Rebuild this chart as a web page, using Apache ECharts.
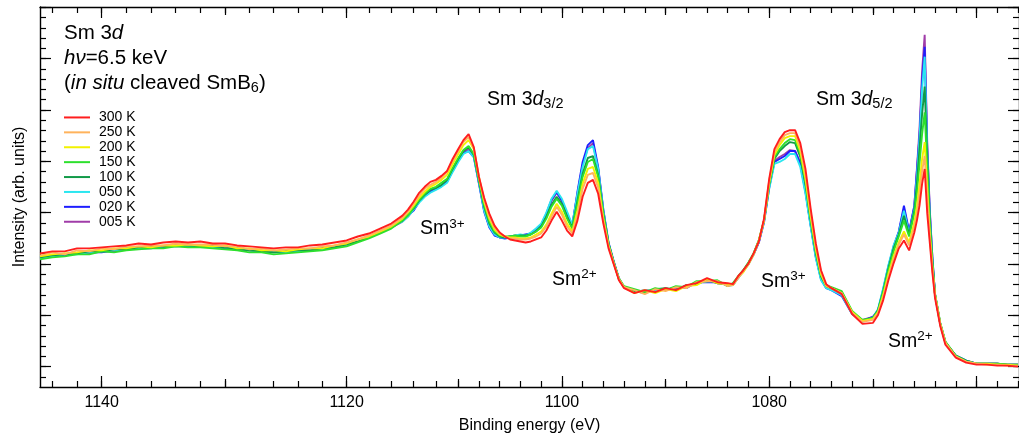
<!DOCTYPE html>
<html><head><meta charset="utf-8">
<script src="https://cdn.jsdelivr.net/npm/echarts@6/dist/echarts.min.js"></script>
<style>html,body{margin:0;padding:0;background:#fff}#c{width:1019px;height:439px}</style>
</head><body><div id="c"></div>
<script>
// Binding energy (eV)
const energy = [1145,1144,1143,1142,1141,1140,1139,1138,1137,1136,1135,1134,1133,1132,1131,1130,1129,1128,1127,1126,1125,1124,1123,1122,1121,1120,1119,1118,1117,1116,
1115,1114.5,1114,1113.5,1113,1112.5,1112,1111.5,1111,1110.5,1110,1109.5,1109,1108.5,1108,1107.5,1107,1106.5,1106,1105.5,1105,1104.5,1104,1103.5,1103,1102.5,1102,1101.5,1101,1100.5,1100,1099.5,1099,1098.5,1098,1097.5,1097,1096.5,1096,1095.5,1095,1094.5,1094,
1093,1092,1091,1090,1089,1088,1087,1086,1085,1084,
1083.5,1083,1082.5,1082,1081.5,1081,1080.5,1080,1079.5,1079,1078.5,1078,1077.5,1077,1076.5,1076,1075.5,1075,1074.5,1074,
1073,1072,1071,
1070,1069.5,1069,1068.5,1068,1067.5,1067,1066.5,1066,1065.75,1065.5,1065.25,1065,1064.75,1064.5,1064.25,1064,1063.5,1063,
1062,1061,1060,1059,1058,1057,1056];

// Intensity (arb. units)
const i300 = [114,116,116,119,119,120,121,122,124,123,125,126,125,126,124,124,122,121,120,119,120,120,122,123,125,127,131,134,139,144,
152,158,166,175,181,186,188,192,197,209,219,228,234,221,191,170,154,142,135,131,128,127,126,125,126,128,130,137,147,156,147,137,131,147,171,185,188,174,144,119,103,87,79,
74,77,75,79,77,82,84,89,85,84,
83,91,97,104,114,126,149,189,219,229,236,238,238,225,199,159,124,97,83,79,
73,53,43,
44,52,67,87,104,119,127,117,135,147,162,184,199,154,124,94,69,41,22,
9,4,2,2,1,1,0];
const i250 = [112,115,113,117,116,119,118,121,121,122,122,124,123,123,123,121,121,118,119,117,118,119,119,121,122,125,128,132,137,142,
150,156,164,172,179,183,186,190,196,207,217,226,231,220,191,168,151,140,134,131,129,129,128,128,129,131,134,141,151,161,153,141,134,153,179,193,195,180,147,121,104,88,80,
77,73,78,76,80,79,85,86,86,81,
82,89,96,103,113,126,147,187,216,226,233,235,235,221,194,155,121,95,82,79,
74,54,45,
47,54,70,90,108,123,133,122,141,154,174,197,212,169,129,97,72,43,24,
10,5,3,2,2,1,1];
const i200 = [111,113,114,115,117,117,119,119,121,120,122,122,123,122,121,122,119,119,117,117,116,118,119,119,122,124,128,131,136,141,
149,155,162,170,176,181,184,188,193,204,214,223,228,219,190,166,149,138,133,131,130,130,129,129,130,133,136,143,154,164,156,144,136,157,184,199,201,185,149,122,104,88,80,
74,77,74,78,76,81,82,88,84,83,
82,90,95,103,113,127,147,185,213,223,230,232,232,217,189,151,118,93,81,79,
74,55,46,
48,55,72,93,111,125,136,125,145,161,184,209,226,179,134,99,72,43,24,
10,5,3,3,2,2,1];
const i150 = [108,110,111,113,113,116,115,117,118,119,119,121,120,120,119,118,117,115,115,113,114,115,116,117,119,121,125,129,134,139,
147,152,160,168,174,179,181,185,189,200,210,218,222,214,188,163,146,136,132,131,131,132,131,131,133,136,140,149,161,169,162,149,139,164,191,206,209,191,153,123,105,89,81,
78,75,79,77,81,80,86,86,87,81,
84,91,97,105,114,127,147,184,211,219,225,229,228,214,186,149,116,92,82,80,
76,56,47,
49,56,75,97,116,131,147,131,154,174,204,234,256,199,141,103,73,44,25,
11,5,3,3,3,2,2];
const i100 = [110,112,113,114,116,116,118,118,120,120,121,122,122,121,121,120,118,117,116,115,116,117,117,119,120,123,126,130,135,140,
147,153,159,167,173,178,180,183,188,199,209,217,221,213,187,161,144,135,131,130,131,131,132,132,133,136,141,151,163,171,164,151,140,167,194,210,212,193,154,124,105,88,80,
76,74,78,79,77,82,83,87,84,83,
83,90,97,104,114,127,147,183,209,217,222,226,225,211,184,147,114,91,81,79,
75,55,46,
49,57,76,99,119,133,152,133,157,184,219,254,282,209,147,105,73,44,25,
11,6,3,3,3,2,2];
const i050 = [109,111,113,113,115,116,117,118,119,119,121,121,122,121,120,120,119,117,116,115,115,116,117,118,120,123,127,131,136,141,
146,151,158,165,171,175,178,181,185,196,206,214,217,211,185,157,141,133,130,130,131,132,133,132,135,139,144,155,169,177,169,156,143,174,201,219,222,199,157,124,105,88,80,
75,77,76,79,77,81,84,86,86,81,
82,89,96,103,113,126,146,179,204,206,209,214,214,201,174,141,109,87,79,77,
72,53,45,
49,58,79,102,122,135,157,134,159,191,229,279,312,214,151,107,73,43,24,
11,6,3,3,2,2,1];
const i020 = [110,111,112,114,115,115,117,119,119,120,120,122,121,122,121,119,119,117,116,116,115,117,118,119,121,123,126,131,136,141,
147,152,157,166,172,176,179,182,186,197,207,215,217,211,184,156,140,132,130,129,130,131,132,133,134,138,143,154,168,176,167,154,142,176,206,223,228,201,158,125,106,89,80,
77,75,77,77,80,79,85,85,85,82,
82,90,96,104,113,125,145,180,206,209,212,217,217,204,176,142,110,88,79,77,
71,53,46,
50,57,78,101,121,136,162,136,162,197,232,287,322,219,154,109,72,43,24,
11,6,3,3,3,2,2];
const i005 = [109,112,112,114,114,116,116,118,119,119,121,121,121,121,120,120,118,117,117,115,116,116,117,119,120,123,127,131,135,140,
146,151,158,166,172,177,179,182,187,198,208,216,219,212,185,158,141,133,130,130,131,132,132,132,134,137,142,153,167,175,167,154,142,174,203,220,225,199,157,124,105,88,80,
75,77,76,78,78,81,83,88,84,83,
83,89,97,103,113,125,147,181,207,211,214,218,217,205,177,143,111,89,80,78,
73,54,47,
50,56,77,100,120,135,159,135,161,199,239,297,334,224,157,109,72,43,24,
11,6,3,3,3,2,2];

const temperatureLabels = ['300 K','250 K','200 K','150 K','100 K','050 K','020 K','005 K'];
const spectra = [i300, i250, i200, i150, i100, i050, i020, i005];
const lineColors = ['#ff1e1e','#ffb35c','#f2f200','#2de02d','#129a48','#2ae6f0','#1e1eff','#a03ca8'];

// axis ticks (eV)
const xLabelTicks = [1140, 1120, 1100, 1080];
const xMajorTicks = [1140, 1120, 1100, 1080, 1060];
const xMediumTicks = [1130, 1110, 1090, 1070];
const xMinorTicks = [];
for (let e = 1144; e >= 1056; e -= 2) xMinorTicks.push(e);

// The original energy axis is stretched on its high-energy side.
const axisStretch = [[1110, 1120, 1.077], [1120, 1130, 1.173], [1130, 1150, 1.19]];
function warp(e) {
  let u = e;
  for (const [lo, hi, s] of axisStretch) if (e > lo) u += (Math.min(e, hi) - lo) * (s - 1);
  return u;
}
const xMin = 1055.9, xMax = warp(1145);
const yMin = -20.5, yMax = 362;
const yStep = 10.334;
const yMinorTicks = [], yMajorTicks = [];
for (let k = -1; k <= 35; k++) { yMinorTicks.push(k * yStep); if (k >= 0 && k % 5 === 0) yMajorTicks.push(k * yStep); }

const FF = "'Liberation Sans', Arial, Helvetica, sans-serif";
const tickLine = { color: '#000', width: 1.2 };

function xAxisCfg(pos, ticks, len, showLine, labels) {
  return {
    type: 'value', position: pos, inverse: true, min: xMin, max: xMax, gridIndex: 0,
    axisLine: { show: showLine, onZero: false, lineStyle: { color: '#000', width: 1.4 } },
    axisTick: { show: true, inside: true, length: len, customValues: ticks.map(warp), lineStyle: tickLine },
    axisLabel: labels ? {
      show: true, customValues: xLabelTicks.map(warp), color: '#000', fontSize: 16, fontFamily: FF, margin: 8,
      formatter: v => { const t = xLabelTicks.find(e => Math.abs(warp(e) - v) < 1e-6); return t === undefined ? '' : String(t); }
    } : { show: false },
    splitLine: { show: false },
    name: labels ? 'Binding energy (eV)' : '', nameLocation: 'middle', nameGap: 31,
    nameTextStyle: { fontSize: 16, color: '#000', fontFamily: FF }
  };
}
function yAxisCfg(pos, ticks, len, showLine, named) {
  return {
    type: 'value', position: pos, min: yMin, max: yMax, gridIndex: 0,
    axisLine: { show: showLine, onZero: false, lineStyle: { color: '#000', width: 1.4 } },
    axisTick: { show: true, inside: true, length: len, customValues: ticks, lineStyle: tickLine },
    axisLabel: { show: false }, splitLine: { show: false },
    name: named ? 'Intensity (arb. units)' : '', nameLocation: 'middle', nameGap: 12, nameRotate: 90,
    nameTextStyle: { fontSize: 16, color: '#000', fontFamily: FF }
  };
}

const rich = {
  n: { fontSize: 19.5, lineHeight: 24, fontFamily: FF, fill: '#000' },
  i: { fontSize: 19.5, lineHeight: 24, fontFamily: FF, fontStyle: 'italic', fill: '#000' },
  sub: { fontSize: 14.5, lineHeight: 12, verticalAlign: 'bottom', fontFamily: FF, fill: '#000' },
  sup: { fontSize: 13.5, lineHeight: 20, verticalAlign: 'top', fontFamily: FF, fill: '#000' },
  N: { fontSize: 20.5, lineHeight: 24, fontFamily: FF, fill: '#000' },
  I: { fontSize: 20.5, lineHeight: 24, fontFamily: FF, fontStyle: 'italic', fill: '#000' },
  S: { fontSize: 14.5, lineHeight: 12, verticalAlign: 'bottom', fontFamily: FF, fill: '#000' }
};
const notes = [
  { x: 64, y: 21, text: '{N|Sm 3}{I|d}' },
  { x: 64, y: 46.3, text: '{I|hν}{N|=6.5 keV}' },
  { x: 64, y: 71.7, text: '{N|(}{I|in situ}{N| cleaved SmB}{S|6}{N|)}' },
  { x: 487, y: 87.5, text: '{n|Sm 3}{i|d}{sub|3/2}' },
  { x: 816, y: 87.5, text: '{n|Sm 3}{i|d}{sub|5/2}' },
  { x: 420, y: 217, text: '{n|Sm}{sup|3+}' },
  { x: 552, y: 267.3, text: '{n|Sm}{sup|2+}' },
  { x: 761, y: 269.3, text: '{n|Sm}{sup|3+}' },
  { x: 888, y: 329.3, text: '{n|Sm}{sup|2+}' }
];

const drawOrder = [7, 6, 5, 4, 3, 2, 1, 0];
const series = drawOrder.map(k => ({
  name: temperatureLabels[k], type: 'line', xAxisIndex: 0, yAxisIndex: 0,
  showSymbol: false, symbol: 'none', smooth: false, color: lineColors[k],
  lineStyle: { color: lineColors[k], width: 1.9 }, itemStyle: { color: lineColors[k] },
  data: energy.map((e, i) => [warp(e), spectra[k][i]]), animation: false, z: 2
}));

const chart = echarts.init(document.getElementById('c'), null, { renderer: 'canvas' });
chart.setOption({
  animation: false,
  backgroundColor: '#fff',
  grid: { left: 40, top: 7, width: 983, bottom: 49.5, containLabel: false },
  xAxis: [
    xAxisCfg('bottom', xMajorTicks, 11, true, true),
    xAxisCfg('bottom', xMediumTicks, 8, false, false),
    xAxisCfg('bottom', xMinorTicks, 6, false, false),
    xAxisCfg('top', xMajorTicks, 11, true, false),
    xAxisCfg('top', xMediumTicks, 8, false, false),
    xAxisCfg('top', xMinorTicks, 6, false, false)
  ],
  yAxis: [
    yAxisCfg('left', yMajorTicks, 11, true, true),
    yAxisCfg('left', yMinorTicks, 6, false, false),
    yAxisCfg('right', yMajorTicks, 11, true, false),
    yAxisCfg('right', yMinorTicks, 6, false, false)
  ],
  legend: {
    data: temperatureLabels, orient: 'vertical', left: 64, top: 110, padding: 0,
    icon: 'rect', itemWidth: 26, itemHeight: 2, itemGap: 0, selectedMode: false,
    textStyle: { fontSize: 14, lineHeight: 14.9, color: '#000', fontFamily: FF, padding: [0, 0, 0, 4] }
  },
  graphic: notes.map(n => ({
    type: 'text', x: n.x, y: n.y, z: 10,
    style: { text: n.text, rich: rich, align: 'left', verticalAlign: 'top', fill: '#000', fontFamily: FF }
  })),
  series: series
});
</script></body></html>
